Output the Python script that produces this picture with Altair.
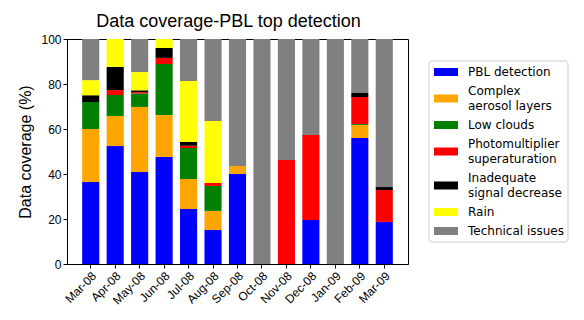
import altair as alt
import pandas as pd

months = ["Mar-08", "Apr-08", "May-08", "Jun-08", "Jul-08", "Aug-08", "Sep-08",
          "Oct-08", "Nov-08", "Dec-08", "Jan-09", "Feb-09", "Mar-09"]
categories = ["PBL detection", "Complex aerosol layers", "Low clouds",
              "Photomultiplier superaturation", "Inadequate signal decrease",
              "Rain", "Technical issues"]
legend_lines = [["PBL detection"], ["Complex", "aerosol layers"], ["Low clouds"],
                ["Photomultiplier", "superaturation"], ["Inadequate", "signal decrease"],
                ["Rain"], ["Technical issues"]]
colors = ["#0000ff", "#ffa500", "#008000", "#ff0000", "#000000", "#ffff00", "#808080"]

pbl       = [36.4, 52.4, 40.9, 47.6, 24.4, 15.1, 40.0, 0, 0, 19.6, 0, 56.0, 18.7]
complex_  = [23.6, 13.4, 28.9, 18.6, 13.4, 8.5, 3.6, 0, 0, 0, 0, 5.8, 0]
lowcloud  = [12.0, 9.3, 6.0, 22.7, 13.8, 11.1, 0, 0, 0, 0, 0, 0.4, 0]
photo     = [0, 2.2, 0.6, 2.7, 1.0, 1.3, 0, 0, 46.2, 37.7, 0, 12.0, 14.2]
inadeq    = [3.0, 10.3, 0.8, 4.4, 1.6, 0, 0, 0, 0, 0, 0, 1.8, 1.3]
rain      = [6.7, 12.4, 8.1, 4.0, 27.1, 27.6, 0, 0, 0, 0, 0, 0, 0]
technical = [18.3, 0, 14.7, 0, 18.7, 36.4, 56.4, 100, 53.8, 42.7, 100, 24.0, 65.8]

series = [pbl, complex_, lowcloud, photo, inadeq, rain, technical]
rows = []
for ci, (cat, vals) in enumerate(zip(categories, series)):
    for m, v in zip(months, vals):
        rows.append({"month": m, "category": cat, "value": v, "ord": ci})
df = pd.DataFrame(rows)

# ---- legend layout (pixels relative to the plot area's top-left corner) ----
LEG_BOX = (362, 501, 22, 203)          # x, x2, y, y2
LEG_SYM_X = (367, 391)
LEG_TEXT_X = 401
LEG_FIRST = 33                          # centre of the first entry
LINE_H = 15                             # spacing of lines inside one entry
ENTRY_GAP = 11.5                        # extra space between entries

sym_rows, txt_rows = [], []
yc = LEG_FIRST
for i, (cat, lines) in enumerate(zip(categories, legend_lines)):
    n = len(lines)
    if i > 0:
        prev_n = len(legend_lines[i - 1])
        yc += (prev_n - 1) * LINE_H / 2 + ENTRY_GAP + LINE_H / 2 + (n - 1) * LINE_H / 2
    sym_rows.append({"category": cat, "y0": yc - 4, "y1": yc + 4})
    for k, t in enumerate(lines):
        txt_rows.append({"text": t, "ty": yc + (k - (n - 1) / 2) * LINE_H})
sym_df = pd.DataFrame(sym_rows)
txt_df = pd.DataFrame(txt_rows)

FONT = "Liberation Sans"
LFONT = "DejaVu Sans"
color_scale = alt.Scale(domain=categories, range=colors)

bars = alt.Chart(df).mark_bar().encode(
    x=alt.X("month:N", sort=months,
            scale=alt.Scale(paddingInner=0.3, paddingOuter=0.62),
            axis=alt.Axis(title=None, labelAngle=-45, labelFontSize=12, labelFont=FONT,
                          labelColor="black", tickColor="black", tickSize=4,
                          domainColor="black", labelPadding=2)),
    y=alt.Y("value:Q", stack="zero",
            scale=alt.Scale(domain=[0, 100], nice=False),
            axis=alt.Axis(title="Data coverage (%)", values=[0, 20, 40, 60, 80, 100],
                          grid=False, labelFontSize=12, labelFont=FONT, labelColor="black",
                          tickColor="black", tickSize=4, domainColor="black",
                          titleFontSize=16, titleFont=FONT, titleFontWeight="normal",
                          titleColor="black", titlePadding=7)),
    color=alt.Color("category:N", scale=color_scale, legend=None),
    order=alt.Order("ord:Q", sort="ascending"),
)

box = alt.Chart(pd.DataFrame({"k": [0]})).mark_rect(
    fill="white", stroke="#cccccc", strokeWidth=1, cornerRadius=3
).encode(x=alt.value(LEG_BOX[0]), x2=alt.value(LEG_BOX[1]),
         y=alt.value(LEG_BOX[2]), y2=alt.value(LEG_BOX[3]))

syms = alt.Chart(sym_df).mark_rect().encode(
    x=alt.value(LEG_SYM_X[0]), x2=alt.value(LEG_SYM_X[1]),
    y=alt.Y("y0:Q", scale=None, axis=None), y2="y1:Q",
    color=alt.Color("category:N", scale=color_scale, legend=None),
)

texts = alt.Chart(txt_df).mark_text(
    align="left", baseline="middle", font=LFONT, fontSize=12, color="black"
).encode(x=alt.value(LEG_TEXT_X), y=alt.Y("ty:Q", scale=None, axis=None), text="text:N")

chart = alt.layer(bars, box, syms, texts).properties(
    width=341, height=225,
    padding={"left": 9, "top": 5, "right": 5, "bottom": 5},
    title=alt.TitleParams("Data coverage-PBL top detection", fontSize=18, font=FONT,
                          fontWeight="normal", color="black", offset=2, dx=-9),
).configure_view(stroke="black", strokeWidth=1)

chart.save("out.html", embed_options={"renderer": "svg", "actions": False})
